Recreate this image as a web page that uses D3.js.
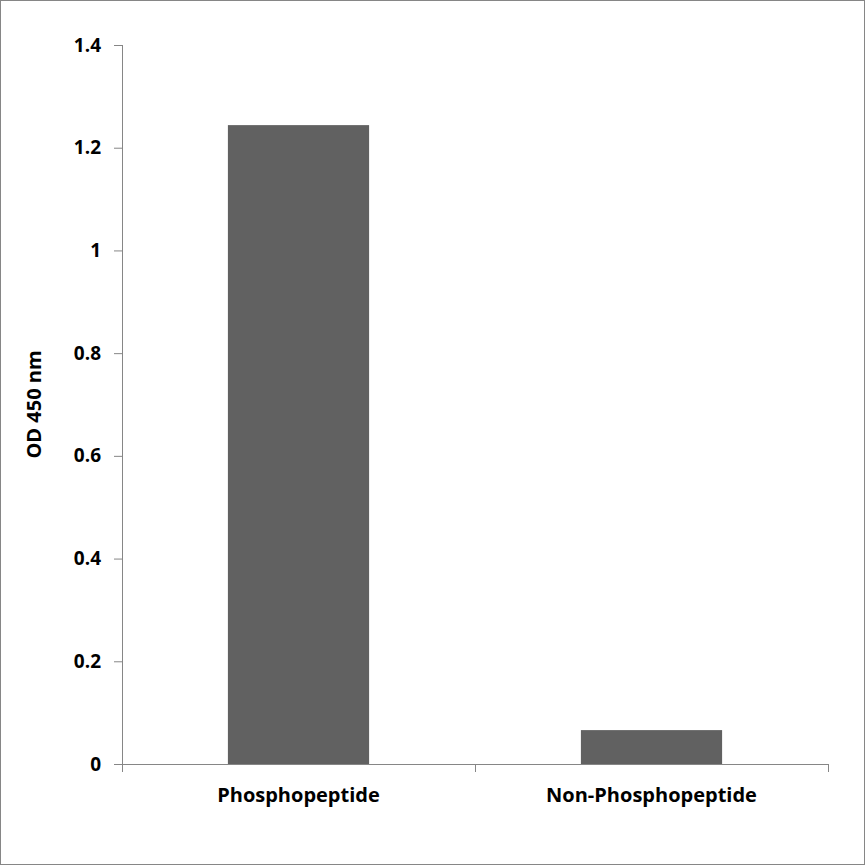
<!DOCTYPE html>
<html>
<head>
<meta charset="utf-8">
<script src="https://cdn.jsdelivr.net/npm/d3@7"></script>
<style>
  body { margin: 0; background: #fff; }
  text { font-family: "Open Sans", "Liberation Sans", sans-serif; font-weight: bold; fill: #000; }
</style>
</head>
<body>
<svg id="chart" width="865" height="865"></svg>
<script>
// --- Dữ liệu ---
const categories = ["Phosphopeptide", "Non-Phosphopeptide"];
const values = [1.244, 0.066];
const yTicks = [0, 0.2, 0.4, 0.6, 0.8, 1, 1.2, 1.4];
const yTitle = "OD 450 nm";

// --- Khung vẽ ---
const svg = d3.select("#chart"),
      margin = {top: 45, right: 37, bottom: 101, left: 122},
      width = +svg.attr("width") - margin.left - margin.right,
      height = +svg.attr("height") - margin.top - margin.bottom;

// viền ngoài
svg.append("rect")
   .attr("x", 0.5).attr("y", 0.5)
   .attr("width", 864).attr("height", 864)
   .attr("fill", "#fff")
   .attr("stroke", "#868686");

const g = svg.append("g")
             .attr("transform", `translate(${margin.left},${margin.top})`);

const x = d3.scaleBand()
            .domain(categories)
            .range([0, width])
            .paddingInner(0.6)
            .paddingOuter(0.3);

const y = d3.scaleLinear()
            .domain([0, 1.4])
            .range([height, 0]);

// --- Cột ---
g.selectAll("rect.bar")
  .data(categories)
  .enter().append("rect")
    .attr("class", "bar")
    .attr("x", d => x(d))
    .attr("y", (d, i) => y(values[i]))
    .attr("width", x.bandwidth())
    .attr("height", (d, i) => height - y(values[i]))
    .attr("fill", "#616161");

// --- Trục Y ---
const yAxis = g.append("g")
  .call(d3.axisLeft(y).tickValues(yTicks).tickFormat(d3.format("")).tickSize(8).tickPadding(13));
yAxis.selectAll("path, line").attr("stroke", "#868686");
yAxis.select(".domain").attr("d", `M0.5,0V${height}`);
yAxis.selectAll("text")
  .style("font-size", "19px")
  .style("font-family", "'Open Sans', 'Liberation Sans', sans-serif");

// --- Trục X: vạch ở ranh giới các nhóm ---
const boundaries = d3.range(categories.length + 1).map(i => i * width / categories.length);
g.append("line")
  .attr("x1", 0).attr("x2", width)
  .attr("y1", height + 0.5).attr("y2", height + 0.5)
  .attr("stroke", "#868686");
g.selectAll("line.xtick")
  .data(boundaries)
  .enter().append("line")
    .attr("class", "xtick")
    .attr("x1", d => Math.round(d) + 0.5).attr("x2", d => Math.round(d) + 0.5)
    .attr("y1", height).attr("y2", height + 8)
    .attr("stroke", "#868686");

g.selectAll("text.xlabel")
  .data(categories)
  .enter().append("text")
    .attr("class", "xlabel")
    .attr("x", d => x(d) + x.bandwidth() / 2)
    .attr("y", height + 38)
    .attr("text-anchor", "middle")
    .style("font-size", "20px")
    .text(d => d);

// --- Tiêu đề trục Y ---
svg.append("text")
   .attr("transform", `translate(41,${margin.top + height / 2}) rotate(-90)`)
   .attr("text-anchor", "middle")
   .style("font-size", "20px")
   .text(yTitle);
</script>
</body>
</html>
